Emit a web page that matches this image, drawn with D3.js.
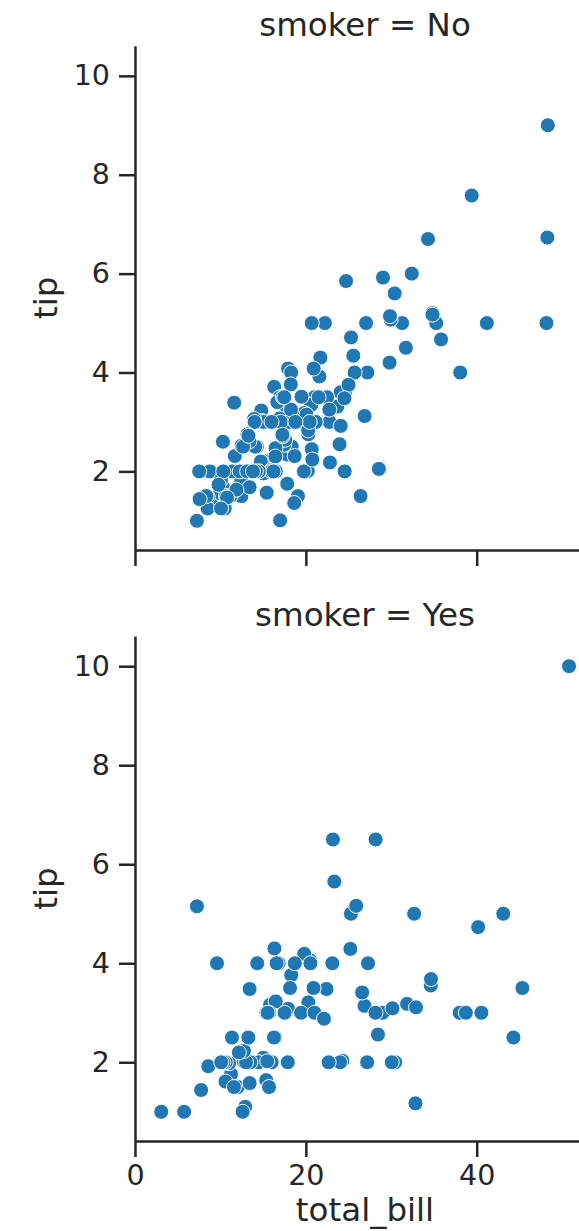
<!DOCTYPE html>
<html>
<head>
<meta charset="utf-8">
<script src="https://cdn.jsdelivr.net/npm/d3@7"></script>
<style>
  body { margin: 0; background: #fff; }
  svg { display: block; font-family: "DejaVu Sans", sans-serif; }
</style>
</head>
<body>
<div id="chart"></div>
<script>
// tips data, split by smoker
const noBill = [16.99,10.34,21.01,23.68,24.59,25.29,8.77,26.88,15.04,14.78,10.27,35.26,15.42,18.43,14.83,21.58,10.33,16.29,16.97,
  20.65,17.92,20.29,15.77,39.42,19.82,17.81,13.37,12.69,21.7,19.65,9.55,18.35,15.06,20.69,17.78,24.06,16.31,16.93,18.69,31.27,16.04,
  17.46,13.94,9.68,30.4,18.29,22.23,32.4,28.55,18.04,12.54,10.29,34.81,9.94,25.56,19.49,26.41,48.27,17.59,20.08,16.45,20.23,12.02,
  17.07,14.73,10.51,27.2,22.76,17.29,16.66,10.07,15.98,34.83,13.03,18.28,24.71,21.16,22.49,22.75,12.46,20.92,18.24,14.0,7.25,38.07,
  23.95,25.71,17.31,29.93,10.65,12.43,24.08,11.69,13.42,14.26,15.95,12.48,29.8,8.52,14.52,11.38,22.82,19.08,20.27,11.17,12.26,18.26,
  8.51,10.33,14.15,13.16,17.47,34.3,41.19,27.05,16.43,8.35,18.64,11.87,9.78,7.51,14.07,13.13,17.26,24.55,19.77,29.85,48.17,25.0,
  13.39,16.49,21.5,12.66,16.21,13.81,24.52,20.76,31.71,20.69,7.56,48.33,15.98,20.45,13.28,11.61,10.77,10.07,35.83,29.03,17.82,18.78];
const noTip = [1.01,1.66,3.5,3.31,3.61,4.71,2.0,3.12,1.96,3.23,1.71,5.0,1.57,3.0,3.02,3.92,1.67,3.71,3.5,
  3.35,4.08,2.75,2.23,7.58,3.18,2.34,2.0,2.0,4.3,3.0,1.45,2.5,3.0,2.45,3.27,3.6,2.0,3.07,2.31,5.0,2.24,
  2.54,3.06,1.32,5.6,3.0,5.0,6.0,2.05,3.0,2.5,2.6,5.2,1.56,4.34,3.51,1.5,6.73,2.64,3.15,2.47,2.01,1.97,
  3.0,2.2,1.25,4.0,3.0,2.71,3.4,1.83,2.03,5.17,2.0,4.0,5.85,3.0,3.5,3.25,1.5,4.08,3.76,3.0,1.0,4.0,
  2.55,4.0,3.5,5.07,1.5,1.8,2.92,2.31,1.68,2.5,2.0,2.52,4.2,1.48,2.0,2.0,2.18,1.5,2.83,1.5,2.0,3.25,
  1.25,2.0,2.0,2.75,3.5,6.7,5.0,5.0,2.3,1.5,1.36,1.63,1.73,2.0,2.5,2.0,2.74,2.0,2.0,5.14,5.0,3.75,
  2.61,2.0,3.5,2.5,2.0,2.0,3.48,2.24,4.5,5.0,1.44,9.0,3.0,3.0,2.72,3.39,1.47,1.25,4.67,5.92,1.75,3.0];

const yesBill = [38.01,11.24,20.29,13.81,11.02,18.29,3.07,15.01,26.86,25.28,17.92,19.44,32.68,28.97,5.75,16.32,40.17,27.28,12.03,
  21.01,11.35,15.38,44.3,22.42,15.36,20.49,25.21,14.31,16.0,17.51,10.59,10.63,50.81,15.81,7.25,31.85,16.82,32.9,17.89,14.48,9.6,
  34.63,34.65,23.33,45.35,23.17,40.55,20.9,30.46,18.15,23.1,15.69,19.81,28.44,15.48,16.58,10.34,43.11,13.0,13.51,18.71,12.74,13.0,
  16.4,20.53,16.47,26.59,38.73,24.27,12.76,30.06,25.89,13.27,28.17,12.9,28.15,11.59,7.74,30.14,12.16,13.42,8.58,13.42,16.27,10.09,
  22.12,24.01,15.69,15.53,12.6,32.83,27.18,22.67];
const yesTip = [3.0,1.76,3.21,2.0,1.98,3.76,1.0,2.09,3.14,5.0,3.08,3.0,5.0,3.0,1.0,4.3,4.73,4.0,1.5,
  3.0,2.5,3.0,2.5,3.48,1.64,4.06,4.29,4.0,2.0,3.0,1.61,2.0,10.0,3.16,5.15,3.18,4.0,3.11,2.0,2.0,4.0,
  3.55,3.68,5.65,3.5,6.5,3.0,3.5,2.0,3.5,4.0,1.5,4.19,2.56,2.02,4.0,2.0,5.0,2.0,2.0,4.0,2.01,2.0,
  2.5,4.0,3.23,3.41,3.0,2.03,2.23,2.0,5.16,2.5,6.5,1.1,3.0,1.5,1.44,3.09,2.2,3.48,1.92,1.58,2.5,2.0,
  2.88,2.0,3.0,3.0,1.0,1.17,2.0,2.0];

const panelNames = ["No", "Yes"];
const xTicks = [0, 20, 40];
const yTicks = [2, 4, 6, 8, 10];

const width = 579, height = 1231;
const ink = "#262626";
const dot = "#1f77b4";

const svg = d3.select("#chart").append("svg")
  .attr("width", width)
  .attr("height", height);

const x = d3.scaleLinear().domain([0, 53.85]).range([135, 595]);

const panels = [
  { name: panelNames[0], bill: noBill, tip: noTip, top: 45.7, bottom: 550, labels: false },
  { name: panelNames[1], bill: yesBill, tip: yesTip, top: 636, bottom: 1141, labels: true }
];

panels.forEach(p => {
  const y = d3.scaleLinear().domain([0.41, 10.61]).range([p.bottom, p.top]);
  const g = svg.append("g");

  // y axis
  const ya = g.append("g")
    .attr("transform", `translate(${x.range()[0]},0)`)
    .call(d3.axisLeft(y).tickValues(yTicks).tickFormat(d3.format("d"))
      .tickSize(16).tickSizeOuter(0).tickPadding(9));

  // x axis
  const xa = g.append("g")
    .attr("transform", `translate(0,${p.bottom})`)
    .call(d3.axisBottom(x).tickValues(xTicks).tickFormat(p.labels ? d3.format("d") : () => "")
      .tickSize(16).tickSizeOuter(0).tickPadding(8));

  [ya, xa].forEach(a => {
    a.selectAll("path, line").attr("stroke", ink).attr("stroke-width", 2.5);
    a.selectAll("text").attr("fill", ink).style("font-size", "28.5px")
      .style("font-family", '"DejaVu Sans", sans-serif');
  });

  // points
  g.append("g").selectAll("circle")
    .data(d3.range(p.bill.length))
    .join("circle")
    .attr("cx", i => x(p.bill[i]))
    .attr("cy", i => y(p.tip[i]))
    .attr("r", 7.5)
    .attr("fill", dot)
    .attr("stroke", "#fff")
    .attr("stroke-width", 1);

  // facet title
  g.append("text")
    .attr("x", (x.range()[0] + x.range()[1]) / 2)
    .attr("y", p.top - 10)
    .attr("text-anchor", "middle")
    .attr("fill", ink)
    .style("font-size", "32.5px")
    .text(`smoker = ${p.name}`);

  // y label
  g.append("text")
    .attr("transform", `translate(57,${(p.top + p.bottom) / 2}) rotate(-90)`)
    .attr("text-anchor", "middle")
    .attr("fill", ink)
    .style("font-size", "32.5px")
    .text("tip");
});

svg.append("text")
  .attr("x", 365)
  .attr("y", 1221)
  .attr("text-anchor", "middle")
  .attr("fill", ink)
  .style("font-size", "32.5px")
  .text("total_bill");
</script>
</body>
</html>
